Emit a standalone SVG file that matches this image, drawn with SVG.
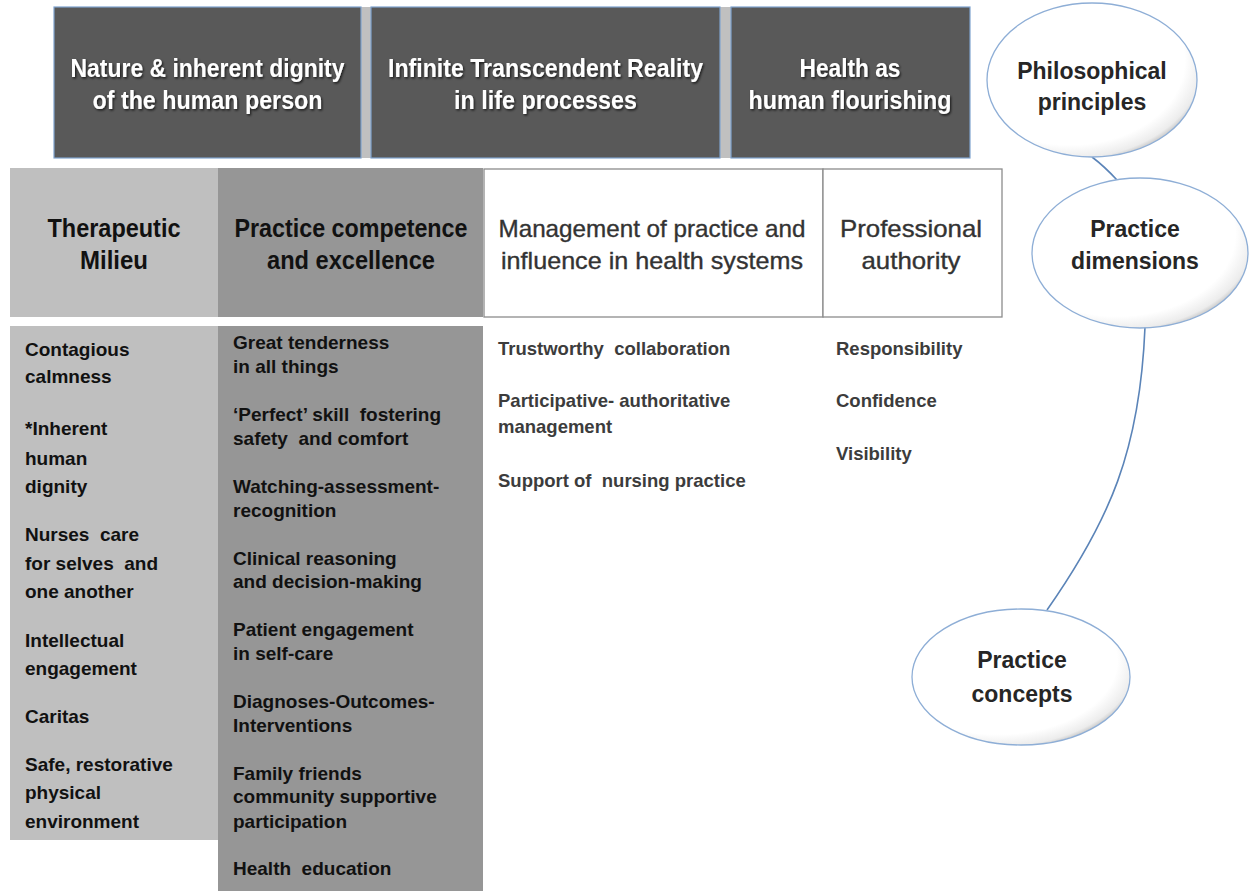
<svg xmlns="http://www.w3.org/2000/svg" width="1250" height="891" viewBox="0 0 1250 891">
<defs>
<style>
.top{fill:#595959;stroke:#7fa3cf;stroke-width:1.2}
.gap{fill:#c0c0c0}
.tt{font-family:"Liberation Sans",Arial,sans-serif;font-weight:bold;font-size:25px;fill:#ffffff;text-anchor:middle}
.hd{font-family:"Liberation Sans",Arial,sans-serif;font-weight:bold;font-size:25px;fill:#111111;text-anchor:middle}
.hg{font-family:"Liberation Sans",Arial,sans-serif;font-size:24px;fill:#333333;stroke:#333333;stroke-width:0.35;text-anchor:middle}
.bd{font-family:"Liberation Sans",Arial,sans-serif;font-weight:bold;font-size:19px;fill:#111111}
.bg{font-family:"Liberation Sans",Arial,sans-serif;font-weight:bold;font-size:18.5px;fill:#3c3c3c}
.el{fill:url(#eg);stroke:#8eaed6;stroke-width:1.3}
.et{font-family:"Liberation Sans",Arial,sans-serif;font-weight:bold;font-size:23px;fill:#262626;text-anchor:middle}
.con{fill:none;stroke:#5b84b8;stroke-width:1.6}
</style>
<radialGradient id="eg" cx="0.4" cy="0.38" r="0.7" fx="0.38" fy="0.36">
<stop offset="0" stop-color="#ffffff"/>
<stop offset="0.78" stop-color="#ffffff"/>
<stop offset="0.9" stop-color="#ececec"/>
<stop offset="0.97" stop-color="#b0b0b0"/>
<stop offset="1" stop-color="#8a8a8a"/>
</radialGradient>
<filter id="sh" x="-5%" y="-20%" width="110%" height="140%">
<feDropShadow dx="1.2" dy="1.5" stdDeviation="0.8" flood-color="#000000" flood-opacity="0.7"/>
</filter>
</defs>

<g id="connectors">
<path class="con" d="M1092,157 Q1104,166 1117,180"/>
<path class="con" d="M1145,327 C1140,450 1110,520 1047,610"/>
</g>

<g id="philosophy-row">
<rect class="gap" x="360" y="7" width="12" height="151"/>
<rect class="gap" x="719" y="7" width="13" height="151"/>
</g>

<g id="node-nature">
<rect class="top" x="54" y="7" width="307" height="151"/>
<text class="tt" filter="url(#sh)"><tspan x="207.5" y="77" textLength="274" lengthAdjust="spacingAndGlyphs">Nature &amp; inherent dignity</tspan><tspan x="207.5" y="109" textLength="230" lengthAdjust="spacingAndGlyphs">of the human person</tspan></text>
</g>

<g id="node-infinite">
<rect class="top" x="371" y="7" width="349" height="151"/>
<text class="tt" filter="url(#sh)"><tspan x="545.5" y="77" textLength="315" lengthAdjust="spacingAndGlyphs">Infinite Transcendent Reality</tspan><tspan x="545.5" y="109" textLength="183" lengthAdjust="spacingAndGlyphs">in life processes</tspan></text>
</g>

<g id="node-health">
<rect class="top" x="731" y="7" width="239" height="151"/>
<text class="tt" filter="url(#sh)"><tspan x="850" y="77" textLength="101" lengthAdjust="spacingAndGlyphs">Health as</tspan><tspan x="850" y="109" textLength="203" lengthAdjust="spacingAndGlyphs">human flourishing</tspan></text>
</g>

<g id="node-therapeutic-milieu">
<rect x="10" y="168" width="208" height="149" fill="#bfbfbf"/>
<text class="hd"><tspan x="114" y="237" textLength="133" lengthAdjust="spacingAndGlyphs">Therapeutic</tspan><tspan x="114" y="269" textLength="68" lengthAdjust="spacingAndGlyphs">Milieu</tspan></text>
</g>

<g id="node-practice-competence">
<rect x="218" y="168" width="265" height="149" fill="#969696"/>
<text class="hd"><tspan x="351" y="237" textLength="233" lengthAdjust="spacingAndGlyphs">Practice competence</tspan><tspan x="351" y="269" textLength="168" lengthAdjust="spacingAndGlyphs">and excellence</tspan></text>
</g>

<g id="node-management">
<rect x="484" y="169" width="339" height="148" fill="#ffffff" stroke="#8c8c8c" stroke-width="1.3"/>
<text class="hg"><tspan x="652" y="237" textLength="307" lengthAdjust="spacingAndGlyphs">Management of practice and</tspan><tspan x="652" y="269" textLength="302" lengthAdjust="spacingAndGlyphs">influence in health systems</tspan></text>
</g>

<g id="node-professional-authority">
<rect x="823" y="169" width="179" height="148" fill="#ffffff" stroke="#8c8c8c" stroke-width="1.3"/>
<text class="hg"><tspan x="911" y="237" textLength="142" lengthAdjust="spacingAndGlyphs">Professional</tspan><tspan x="911" y="269" textLength="99" lengthAdjust="spacingAndGlyphs">authority</tspan></text>
</g>

<g id="concepts-therapeutic">
<rect x="10" y="326" width="208" height="514" fill="#bfbfbf"/>
<text class="bd">
<tspan x="25" y="356">Contagious</tspan>
<tspan x="25" y="383">calmness</tspan>
<tspan x="25" y="435">*Inherent</tspan>
<tspan x="25" y="465">human</tspan>
<tspan x="25" y="493">dignity</tspan>
<tspan x="25" y="541">Nurses&#160; care</tspan>
<tspan x="25" y="570">for selves&#160; and</tspan>
<tspan x="25" y="598">one another</tspan>
<tspan x="25" y="647">Intellectual</tspan>
<tspan x="25" y="675">engagement</tspan>
<tspan x="25" y="723">Caritas</tspan>
<tspan x="25" y="771">Safe, restorative</tspan>
<tspan x="25" y="799">physical</tspan>
<tspan x="25" y="828">environment</tspan>
</text>
</g>

<g id="concepts-practice-competence">
<rect x="218" y="326" width="265" height="565" fill="#969696"/>
<text class="bd">
<tspan x="233" y="349">Great tenderness</tspan>
<tspan x="233" y="373">in all things</tspan>
<tspan x="233" y="421">‘Perfect’ skill&#160; fostering</tspan>
<tspan x="233" y="445">safety&#160; and comfort</tspan>
<tspan x="233" y="493">Watching-assessment-</tspan>
<tspan x="233" y="517">recognition</tspan>
<tspan x="233" y="565">Clinical reasoning</tspan>
<tspan x="233" y="588">and decision-making</tspan>
<tspan x="233" y="636">Patient engagement</tspan>
<tspan x="233" y="660">in self-care</tspan>
<tspan x="233" y="708">Diagnoses-Outcomes-</tspan>
<tspan x="233" y="732">Interventions</tspan>
<tspan x="233" y="780">Family friends</tspan>
<tspan x="233" y="803">community supportive</tspan>
<tspan x="233" y="828">participation</tspan>
<tspan x="233" y="875">Health&#160; education</tspan>
</text>
</g>

<g id="concepts-management">
<text class="bg">
<tspan x="498" y="355">Trustworthy&#160; collaboration</tspan>
<tspan x="498" y="407">Participative- authoritative</tspan>
<tspan x="498" y="433">management</tspan>
<tspan x="498" y="487">Support of&#160; nursing practice</tspan>
</text>
</g>

<g id="concepts-professional-authority">
<text class="bg">
<tspan x="836" y="355">Responsibility</tspan>
<tspan x="836" y="407">Confidence</tspan>
<tspan x="836" y="460">Visibility</tspan>
</text>
</g>

<g id="node-philosophical-principles">
<ellipse class="el" cx="1092" cy="80" rx="105" ry="77"/>
<text class="et"><tspan x="1092" y="79">Philosophical</tspan><tspan x="1092" y="110">principles</tspan></text>
</g>

<g id="node-practice-dimensions">
<ellipse class="el" cx="1140" cy="253" rx="108" ry="75"/>
<text class="et"><tspan x="1135" y="237">Practice</tspan><tspan x="1135" y="269">dimensions</tspan></text>
</g>

<g id="node-practice-concepts">
<ellipse class="el" cx="1021" cy="677" rx="109" ry="68"/>
<text class="et"><tspan x="1022" y="668">Practice</tspan><tspan x="1022" y="702">concepts</tspan></text>
</g>
</svg>
